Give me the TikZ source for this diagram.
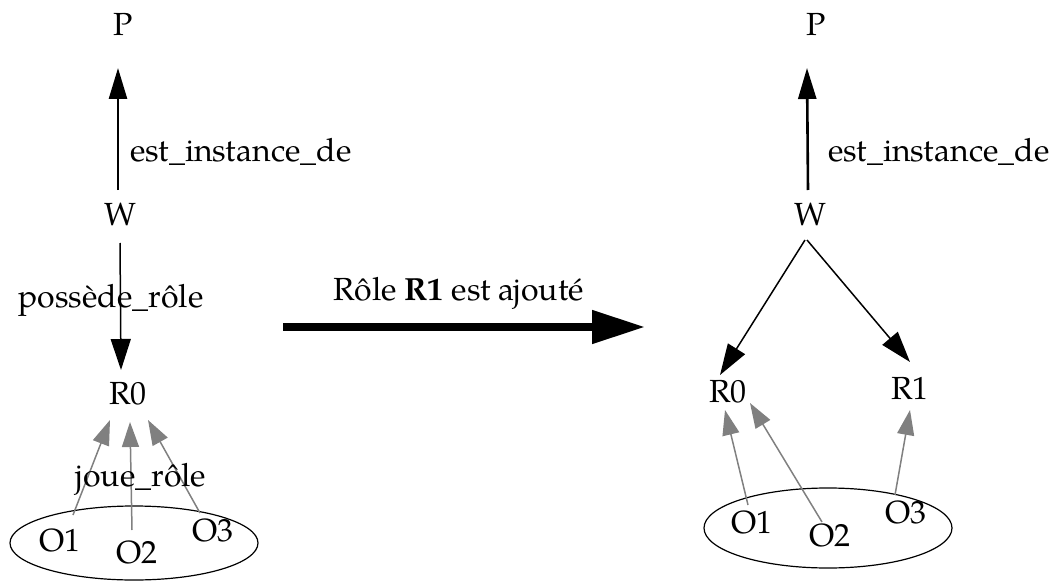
\documentclass[tikz,border=0pt]{standalone}
\usepackage{fontspec}
\setmainfont{TeX Gyre Pagella}
\usetikzlibrary{arrows.meta,calc}
\begin{document}
\begin{tikzpicture}[x=1pt,y=-1pt,
  lbl/.style={inner sep=0pt,font=\fontsize{32}{38}\selectfont},
  blkthick/.style={line width=2.6pt,-{Triangle[length=31pt,width=18pt]}},
  blk/.style={line width=1.5pt,-{Triangle[length=31pt,width=20pt]}},
  gry/.style={draw=gray,line width=1.5pt,-{Triangle[length=25pt,width=17pt]},gray},
  big/.style={line width=8pt,-{Triangle[length=53pt,width=32pt]}},
  grp/.style={draw=black,line width=1.2pt}]
\useasboundingbox (0,0) rectangle (1055,583);
% left graph
\node[lbl] (lP) at (123,24) {P};
\node[lbl] (lW) at (120,214) {W};
\node[lbl] (lR) at (128,394) {R0};
\draw[grp] (134,543) ellipse (124 and 37);
\node[lbl] (lO1) at (60,540) {O1};
\node[lbl] (lO2) at (137,552) {O2};
\node[lbl] (lO3) at (213,530) {O3};
\draw[blkthick] ($(lW)+(-2,-24)$) -- ($(lP)+(-5,44)$);
\node[lbl,anchor=west] (le1) at (130,152) {est\_instance\_de};
\draw[blk] ($(lW)+(0,29)$) -- ($(lR)+(-7,-24)$);
\node[lbl] (le2) at (111,300) {possède\_rôle};
\draw[gry] ($(lO1)+(13,-25)$) -- ($(lR)+(-18,26)$);
\draw[gry] ($(lO2)+(-5,-22)$) -- ($(lR)+(2,28)$);
\draw[gry] ($(lO3)+(-13,-17)$) -- ($(lR)+(20,26)$);
\node[lbl] (le3) at (141,479) {joue\_rôle};
% middle
\coordinate (mA) at (283,327);
\coordinate (mB) at (645,327);
\draw[big] (mA) -- (mB);
\node[lbl] (mL) at (459,293) {Rôle \textbf{R1} est ajouté};
% right graph
\node[lbl] (rP) at (816,24) {P};
\node[lbl] (rW) at (810,214) {W};
\node[lbl] (rR0) at (728,392) {R0};
\node[lbl] (rR1) at (910,388) {R1};
\draw[grp] (828,528) ellipse (124 and 40);
\node[lbl] (rO1) at (752,522) {O1};
\node[lbl] (rO2) at (830,535) {O2};
\node[lbl] (rO3) at (906,512) {O3};
\draw[blkthick] ($(rW)+(-2,-24)$) -- ($(rP)+(-9,44)$);
\node[lbl,anchor=west] (re1) at (828,152) {est\_instance\_de};
\draw[blk] ($(rW)+(-5,26)$) -- ($(rR0)+(-8,-17)$);
\draw[blk] ($(rW)+(-3,26)$) -- ($(rR1)+(0,-26)$);
\draw[gry] ($(rO1)+(-4,-17)$) -- ($(rR0)+(-3,18)$);
\draw[gry] ($(rO2)+(-8,-13)$) -- ($(rR0)+(22,11)$);
\draw[gry] ($(rO3)+(-11,-17)$) -- ($(rR1)+(0,22)$);
\end{tikzpicture}
\end{document}
